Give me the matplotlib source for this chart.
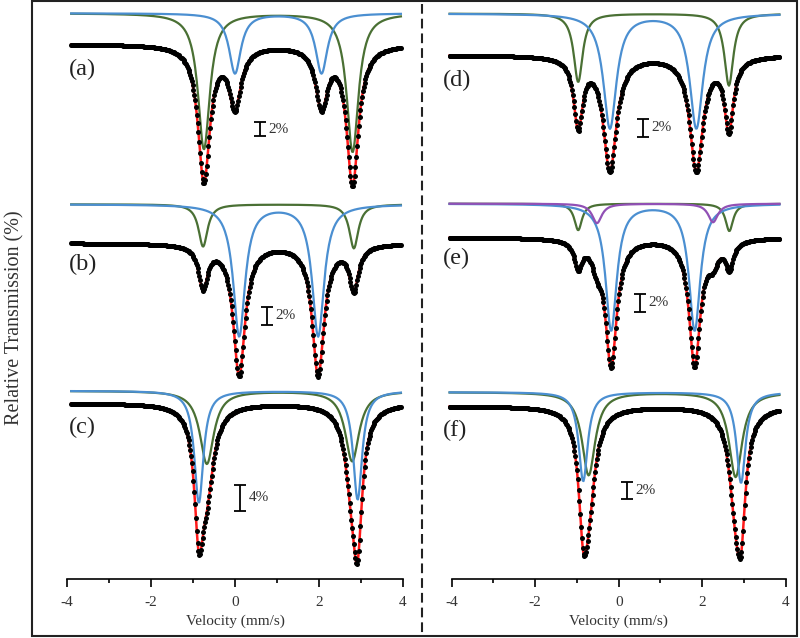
import numpy as np
import matplotlib.pyplot as plt
from matplotlib.patches import Rectangle
from matplotlib.lines import Line2D

plt.rcParams['font.family'] = ['Liberation Serif', 'DejaVu Serif']
plt.rcParams['lines.scale_dashes'] = False

# ---- fitted doublets ----
# each panel: line centres (mm/s), line depths (%), half width (mm/s) per component
# component order: green, blue (, purple)
a_centres = [[-0.74, 2.80], [0.00, 2.06]]
a_depths = [[19.0, 19.4], [8.4, 8.4]]
a_hwhm = [0.17, 0.17]
a_shift = 4.3

b_centres = [[-0.76, 2.83], [0.10, 1.98]]
b_depths = [[4.7, 4.9], [14.6, 14.6]]
b_hwhm = [0.13, 0.17]
b_shift = 4.3

c_centres = [[-0.67, 2.79], [-0.86, 2.92]]
c_depths = [[11.4, 11.0], [17.5, 17.0]]
c_hwhm = [0.20, 0.13]
c_shift = 1.9

d_centres = [[-0.97, 2.64], [-0.21, 1.86]]
d_depths = [[7.6, 8.0], [12.7, 12.7]]
d_hwhm = [0.13, 0.19]
d_shift = 4.6

e_centres = [[-0.97, 2.65], [-0.18, 1.82], [-0.52, 2.26]]
e_depths = [[3.0, 3.1], [14.3, 14.3], [2.2, 2.1]]
e_hwhm = [0.11, 0.163, 0.14]
e_shift = 3.8

f_centres = [[-0.72, 2.80], [-0.85, 2.93]]
f_depths = [[9.6, 9.8], [10.3, 10.5]]
f_hwhm = [0.19, 0.13]
f_shift = 1.6

labels = ['(a)', '(b)', '(c)', '(d)', '(e)', '(f)']
label_y = [96.4, 97.6, 96.25, 97.2, 97.6, 97.2]
bar_x = [0.6, 0.76, 0.12, 0.59, 0.52, 0.2]
bar_top = [89.1, 92.9, 87.2, 92.9, 93.6, 91.25]
bar_pct = [2, 2, 4, 2, 2, 2]

ticks = [-4, -2, 0, 2, 4]
tick_labels = ['-4', '-2', '0', '2', '4']

GREEN = '#4a7034'
BLUE = '#4b8fd1'
PURPLE = '#9150b5'
RED = '#ff1a1a'
TXT = '#333333'

W, H = 800, 638
fig = plt.figure(figsize=(8, 6.38), dpi=100)


def lorentz(v, centres, depths, hwhm):
    out = np.zeros_like(v)
    for c, d in zip(centres, depths):
        out += d / (1 + ((v - c) / hwhm) ** 2)
    return out


def px_axes(x0, x1, top, bot):
    return fig.add_axes([x0 / W, 1 - bot / H, (x1 - x0) / W, (bot - top) / H])


# column x extents in pixels (-4 .. 4) and panel rows (top, bottom, baseline, px per %)
cols = [(67, 403), (451.7, 785.7)]
rows = [[(0, 190, 44, 7.15), (190, 385, 243, 9.0), (385, 579, 403, 6.4)],
        [(0, 190, 55, 9.0), (190, 385, 237.3, 8.85), (385, 579, 406, 8.65)]]
grids = [np.linspace(-3.9, 3.95, 400), np.linspace(-4.05, 3.85, 400)]

panels = [(a_centres, a_depths, a_hwhm, a_shift),
          (b_centres, b_depths, b_hwhm, b_shift),
          (c_centres, c_depths, c_hwhm, c_shift),
          (d_centres, d_depths, d_hwhm, d_shift),
          (e_centres, e_depths, e_hwhm, e_shift),
          (f_centres, f_depths, f_hwhm, f_shift)]
comp_colors = [GREEN, BLUE, PURPLE]

for i, (centres, depths, hwhm, shift) in enumerate(panels):
    col, row = divmod(i, 3)
    x0, x1 = cols[col]
    top, bot, base, s = rows[col][row]
    ax = px_axes(x0, x1, top, bot)
    ax.set_xlim(-4, 4)
    ax.set_ylim(100 - (bot - base) / s, 100 + (base - top) / s)
    ax.patch.set_alpha(0)
    v = grids[col]

    total = np.zeros_like(v)
    for k in range(len(centres)):
        comp = lorentz(v, centres[k], depths[k], hwhm[k])
        total += comp
        ax.plot(v, 100 + shift - comp, color=comp_colors[k], lw=1.6, clip_on=False, zorder=2)
    ax.plot(v, 100 - total, color=RED, lw=1.8, clip_on=False, zorder=3)
    ax.plot(v, 100 - total, 'o', color='black', ms=3.6, mew=0, clip_on=False, zorder=4)

    # scale bar
    p = bar_pct[i]
    ax.errorbar(bar_x[i], bar_top[i] - p / 2, yerr=p / 2, fmt='none', ecolor='black',
                elinewidth=1.3, capsize=4.5, capthick=1.3, zorder=5)
    ax.annotate(f'{p}%', xy=(bar_x[i], bar_top[i] - p / 2), xytext=(6, 0),
                textcoords='offset points', va='center', ha='left', fontsize=11, color=TXT)

    lx = -3.95 if col == 0 else -4.22
    ax.text(lx, label_y[i], labels[i], fontsize=17.5, va='center', ha='left', color='#222222')

    for sp in ax.spines.values():
        sp.set_visible(False)
    ax.set_yticks([])
    if row == 2:
        ax.spines['bottom'].set_visible(True)
        ax.spines['bottom'].set_linewidth(1.2)
        ax.set_xticks(ticks)
        ax.set_xticklabels(tick_labels)
        ax.set_xticks([-3, -1, 1, 3], minor=True)
        ax.tick_params(axis='x', which='major', direction='out', length=6, width=1.2,
                       labelsize=11, pad=6, labelcolor=TXT)
        ax.tick_params(axis='x', which='minor', direction='out', length=3, width=1.2)
        ax.set_xlabel('Velocity (mm/s)', fontsize=11, color=TXT, labelpad=4)
    else:
        ax.set_xticks([])

fig.add_artist(Rectangle((32 / W, 1 - 636 / H), (797 - 32) / W, (636 - 1) / H,
                         transform=fig.transFigure, fill=False, lw=1.5, ec='#222222'))
fig.add_artist(Line2D([422 / W, 422 / W], [1 - 4 / H, 1 - 636 / H], transform=fig.transFigure,
                      color='#222222', lw=1.5, dashes=(7, 3.6)))
fig.text(15 / W, 1 - 318 / H, 'Relative Transmission (%)', rotation=90, va='center',
         ha='center', fontsize=14.5, color=TXT)

fig.savefig('out.png', dpi=100)
